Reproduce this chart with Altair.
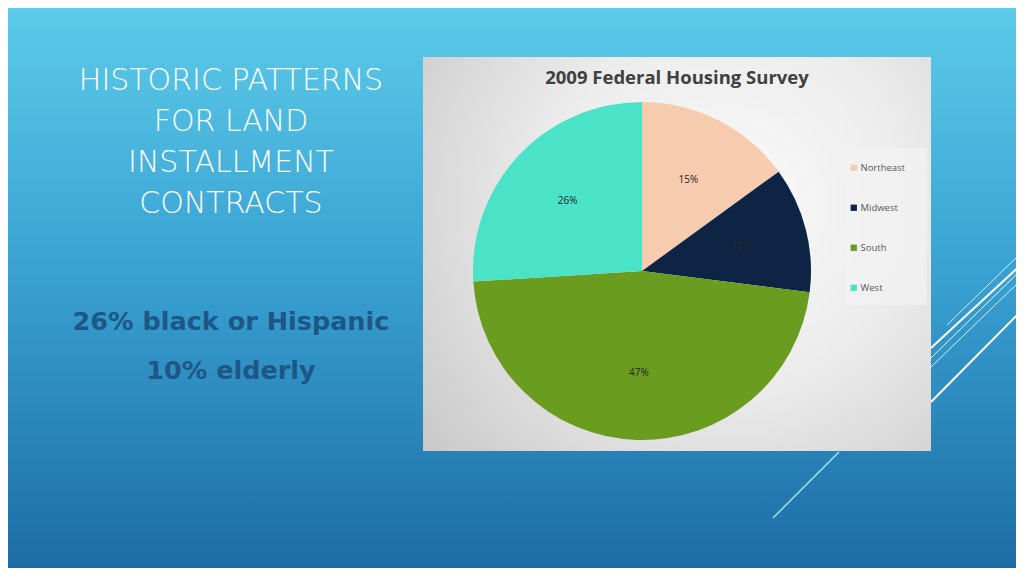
import altair as alt
import pandas as pd

# ---- data ----
regions = ["Northeast", "Midwest", "South", "West"]
shares = [15, 12, 47, 26]
labels = ["15%", "12%", "47%", "26%"]
colors = ["#f6cbae", "#0e2444", "#6a9c20", "#4ae3c8"]

title_lines = "HISTORIC PATTERNS\nFOR LAND\nINSTALLMENT\nCONTRACTS"
bullets = ["26% black or Hispanic", "10% elderly"]
chart_title = "2009 Federal Housing Survey"

df = pd.DataFrame({"region": regions, "share": shares, "label": labels,
                   "idx": list(range(len(regions)))})
one = pd.DataFrame({"a": [0]})

W, H = 1008, 560
OFF = 8  # page margin; reference pixel -> view pixel


def px(v):
    return alt.value(v - OFF)


bg = alt.Chart(one).mark_rect(
    fill=alt.Gradient(gradient="linear", x1=0, y1=0, x2=0, y2=1,
                      stops=[alt.GradientStop(color="#5ccbe9", offset=0),
                             alt.GradientStop(color="#3aa3d3", offset=0.45),
                             alt.GradientStop(color="#1d6ca6", offset=1)])
).encode(x=alt.value(0), x2=alt.value(W), y=alt.value(0), y2=alt.value(H))

deco = []
for (x1, y1, x2, y2, w, c) in [
    (947, 325, 1024, 250, 1, "#c8f0ff"),
    (931, 348, 1024, 262, 2, "#ffffff"),
    (931, 358, 1024, 267, 1, "#e6f8ff"),
    (931, 367, 1024, 277, 1, "#d0f2ff"),
    (931, 402, 1024, 308, 2, "#ffffff"),
    (773, 518, 839, 452, 1.5, "#9fe0f5"),
]:
    deco.append(alt.Chart(one).mark_rule(stroke=c, strokeWidth=w).encode(
        x=px(x1), y=px(y1), x2=px(x2), y2=px(y2)))

box = alt.Chart(one).mark_rect(
    fill=alt.Gradient(gradient="radial", x1=0.6, y1=0.4, r1=0, x2=0.6, y2=0.4, r2=0.8,
                      stops=[alt.GradientStop(color="#fafafa", offset=0),
                             alt.GradientStop(color="#ececec", offset=0.45),
                             alt.GradientStop(color="#c6c6c6", offset=1)])
).encode(x=px(423), x2=px(931), y=px(57), y2=px(451))

legend_bg = alt.Chart(one).mark_rect(fill="#f2f2f2", opacity=0.7).encode(
    x=px(845), x2=px(927), y=px(148), y2=px(305))

title = alt.Chart(one).mark_text(
    text=chart_title, font="Open Sans", fontSize=18.5, fontWeight="bold",
    color="#404040", align="center", baseline="middle"
).encode(x=px(677), y=px(78))

pie = alt.Chart(df).mark_arc(outerRadius=169).encode(
    theta=alt.Theta("share:Q", stack=True),
    order=alt.Order("idx:Q"),
    color=alt.Color("region:N", sort=regions,
                    scale=alt.Scale(domain=regions, range=colors),
                    legend=alt.Legend(title=None, orient="none",
                                      legendX=853 - OFF - 4, legendY=163 - OFF,
                                      symbolType="square", symbolSize=40,
                                      symbolStrokeWidth=0,
                                      labelFont="Open Sans", labelFontSize=9.5,
                                      labelColor="#595959", rowPadding=29,
                                      labelOffset=2)),
    x=px(642), y=px(271),
)

pie_labels = alt.Chart(df).mark_text(
    radius=102, font="Open Sans", fontSize=10, color="#262626"
).encode(
    theta=alt.Theta("share:Q", stack=True),
    order=alt.Order("idx:Q"),
    text="label:N",
    x=px(642), y=px(271),
)

head = alt.Chart(one).mark_text(
    text=title_lines.split("\n"), font="DejaVu Sans", fontSize=30, fontWeight=200,
    color="#ffffff", align="center", baseline="middle", lineHeight=41
).encode(x=px(231), y=px(81))

b1 = alt.Chart(one).mark_text(
    text=bullets[0], font="DejaVu Sans", fontSize=25.5, fontWeight="bold",
    color="#1d5786", align="center", baseline="middle"
).encode(x=px(231), y=px(322))

b2 = alt.Chart(one).mark_text(
    text=bullets[1], font="DejaVu Sans", fontSize=25.5, fontWeight="bold",
    color="#1d5786", align="center", baseline="middle"
).encode(x=px(231), y=px(371))

chart = alt.layer(bg, *deco, box, legend_bg, title, pie, pie_labels, head, b1, b2).properties(
    width=W, height=H, padding=0, autosize=alt.AutoSizeParams(type="none")
).configure_view(stroke=None)

chart.save("out.html", embed_options={"renderer": "svg", "actions": False})
